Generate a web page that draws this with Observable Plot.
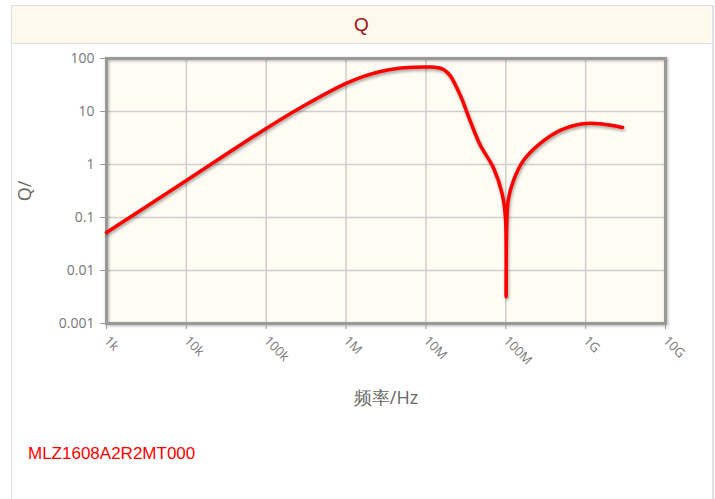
<!DOCTYPE html>
<html><head><meta charset="utf-8">
<script src="https://cdn.jsdelivr.net/npm/d3@7"></script>
<script src="https://cdn.jsdelivr.net/npm/@observablehq/plot@0.6"></script>
<style>
html,body{margin:0;padding:0;background:#fff;}
#wrap{position:relative;width:715px;height:499px;overflow:hidden;font-family:"Open Sans","Liberation Sans",sans-serif;}
#box{position:absolute;left:11px;top:5px;width:700px;height:520px;border:1px solid #ddd;border-right:2px solid #e2e2e2;}
#title{position:absolute;left:12px;top:6px;width:699px;height:37px;background:#fef9ec;border-bottom:1px solid #ddd;text-align:center;line-height:38px;font-family:"Liberation Sans",Arial,sans-serif;font-size:19px;color:#a01010;}
#chart{position:absolute;left:0;top:44px;}
#caption{position:absolute;left:28px;top:444px;font-family:"Liberation Sans",Arial,sans-serif;font-size:17px;color:#ff0000;}
.shadow path{filter:drop-shadow(1px 2px 1.5px rgba(0,0,0,0.35));}
.frame{filter:drop-shadow(1px 1px 1.5px rgba(0,0,0,0.3));}
</style></head>
<body><div id="wrap"><div id="box"></div><div id="title">Q</div><div id="chart"></div><div id="caption">MLZ1608A2R2MT000</div></div>
<script>
const freq = [1e3, 1e4, 1e5, 3e5, 1e6, 1.66e6, 2.7e6, 4.4e6, 7e6, 1.15e7, 1.4e7, 1.66e7, 2e7, 2.7e7, 3.6e7, 4.8e7, 7e7, 9e7, 9.9e7, 1.01e8, 1.07e8, 1.25e8, 1.67e8, 2.7e8, 4.8e8, 9.3e8, 1.5e9, 2.9e9];
const qValues = [0.052, 0.5, 4.8, 13, 34, 46, 57, 65, 68.5, 69, 67, 62, 48, 20, 6.5, 2.3, 0.87, 0.28, 0.1, 0.0032, 0.21, 0.5, 1.2, 2.5, 4.4, 5.9, 5.9, 5.0];
const xTicks = [1e3, 1e4, 1e5, 1e6, 1e7, 1e8, 1e9, 1e10];
const xTickLabels = ["1k", "10k", "100k", "1M", "10M", "100M", "1G", "10G"];
const yTicks = [0.001, 0.01, 0.1, 1, 10, 100];
const yTickLabels = ["0.001", "0.01", "0.1", "1", "10", "100"];

const data = freq.map((f, i) => ({f, q: qValues[i]}));
const xl = new Map(xTicks.map((t, i) => [t, xTickLabels[i]]));
const yl = new Map(yTicks.map((t, i) => [t, yTickLabels[i]]));

const chart = Plot.plot({
  width: 715, height: 380,
  marginLeft: 106, marginRight: 50, marginTop: 14, marginBottom: 101,
  style: {fontFamily: '"Open Sans","Liberation Sans",sans-serif', color: "#777", background: "transparent"},
  x: {type: "log", domain: [1e3, 1e10]},
  y: {type: "log", domain: [1e-3, 100]},
  marks: [
    Plot.frame({fill: "#fffcf3"}),
    Plot.ruleX(xTicks, {stroke: "#cfcfcf", strokeWidth: 1.5}),
    Plot.ruleY(yTicks, {stroke: "#cfcfcf", strokeWidth: 1.5}),
    Plot.frame({stroke: "#999", strokeWidth: 3, className: "frame"}),
    Plot.axisX({ticks: xTicks, tickFormat: d => xl.get(d), tickRotate: 45, tickSize: 6, tickPadding: 9, fontSize: 13, stroke: "#999", label: "频率/Hz", labelArrow: "none", labelAnchor: "center", labelOffset: 80}),
    Plot.axisY({ticks: yTicks, tickFormat: d => yl.get(d), tickSize: 6, tickPadding: 6, fontSize: 14, stroke: "#999", label: "Q/", labelArrow: "none", labelAnchor: "center", labelOffset: 88}),
    Plot.line(data, {x: "f", y: "q", stroke: "#ff0000", strokeWidth: 3.5, curve: "catmull-rom", className: "shadow"})
  ]
});
document.getElementById("chart").appendChild(chart);
chart.querySelectorAll("g[aria-label='x-axis label'] text, g[aria-label='y-axis label'] text").forEach(t => {t.setAttribute("font-size", "18"); t.setAttribute("fill", "#666");});
</script></body></html>
